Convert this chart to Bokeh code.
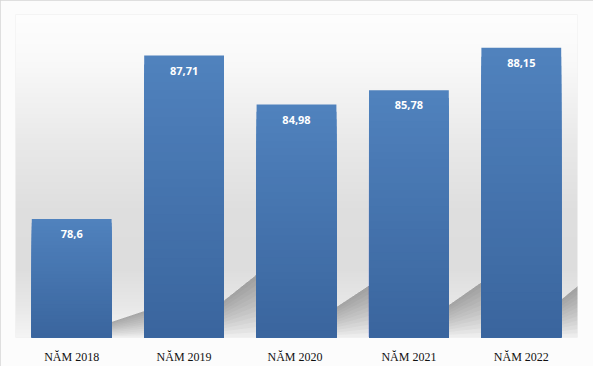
import numpy as np
from bokeh.plotting import figure
from bokeh.models import ColumnDataSource, Range1d
from bokeh.core.properties import value
from bokeh.embed import file_html
from bokeh.resources import INLINE

# ---- data ----
categories = ["NĂM 2018", "NĂM 2019", "NĂM  2020", "NĂM 2021", "NĂM 2022"]
values = [78.6, 87.71, 84.98, 85.78, 88.15]
labels = [str(v).replace(".", ",") for v in values]
y_min, y_max = 72, 90

W, H = 593, 366
p = figure(width=W, height=H, x_range=categories,
           y_range=Range1d(y_min, y_max), output_backend="svg",
           toolbar_location=None, min_border_left=15, min_border_right=16,
           min_border_top=14, min_border_bottom=0)

# ---- background vertical gradient (decoration) ----
N = 240
frac = (np.arange(N) + 0.5) / N            # 0 at bottom of frame
pos = 1 - frac                              # 0 at top of frame, 1 at bottom
stops = [0.0, 0.15, 0.4, 0.6, 0.78, 0.9, 1.0]
stops_g = [254, 249, 233, 223, 221, 232, 245]
g = np.interp(pos, stops, stops_g).astype(np.uint8)
img = np.empty((N, 1), dtype=np.uint32)
view = img.view(dtype=np.uint8).reshape((N, 1, 4))
view[:, 0, 0] = g
view[:, 0, 1] = g
view[:, 0, 2] = g
view[:, 0, 3] = 255
p.image_rgba(image=[img], x=0, y=y_min, dw=len(categories), dh=y_max - y_min)

# ---- cast shadows (decoration derived from the bars) ----
half_w = 0.355
sh_w = 0.36
a, c = 0.13, 0.245
for f in np.linspace(0.0, 0.92, 12):
    xs, ys = [], []
    for i, v in enumerate(values):
        h = v - y_min
        R = i + 0.5 + half_w
        xs.append([R, R + sh_w, R + sh_w, R])
        ys.append([y_min + a * h, y_min + c * h, y_min + c * h * f, y_min + a * h * f])
    p.patches(xs=xs, ys=ys, fill_color="#3a3a3a", fill_alpha=0.035, line_color=None)

# ---- bars with vertical gradient ----
n = 32
top_c = np.array([0x50, 0x82, 0xbe], dtype=float)
bot_c = np.array([0x3a, 0x65, 0x9d], dtype=float)
bx, bb, bt, bc = [], [], [], []
for k in range(n - 1, -1, -1):
    t = (k + 0.5) / n
    col = bot_c + (top_c - bot_c) * t
    hexcol = "#%02x%02x%02x" % tuple(int(round(u)) for u in col)
    for cat, v in zip(categories, values):
        bx.append(cat)
        bb.append(y_min)
        bt.append(y_min + (v - y_min) * (k + 1) / n)
        bc.append(hexcol)
src = ColumnDataSource(dict(x=bx, bottom=bb, top=bt, color=bc))
p.vbar(x="x", bottom="bottom", top="top", width=0.71, fill_color="color",
       line_color=None, source=src)

# ---- value labels ----
p.text(x=categories, y=values, text=labels, text_color="white",
       text_font=value("Open Sans"), text_font_style="bold",
       text_font_size="11px", text_align="center",
       text_baseline="alphabetic", y_offset=15)

# ---- axes / styling ----
p.xaxis.axis_line_color = None
p.xaxis.major_tick_line_color = None
p.xaxis.minor_tick_line_color = None
p.xaxis.major_label_standoff = 6
p.xaxis.major_label_text_font = "Liberation Serif"
p.xaxis.major_label_text_font_size = "12px"
p.xaxis.major_label_text_color = "#111111"
p.yaxis.visible = False
p.xgrid.grid_line_color = None
p.ygrid.grid_line_color = None
p.outline_line_color = None
p.background_fill_color = "#e8e8e8"
p.border_fill_color = "#fcfcfc"
p.styles = {"outline": "1px solid #d6d6d6", "outline-offset": "-1px"}

open("out.html", "w").write(file_html(p, INLINE))
